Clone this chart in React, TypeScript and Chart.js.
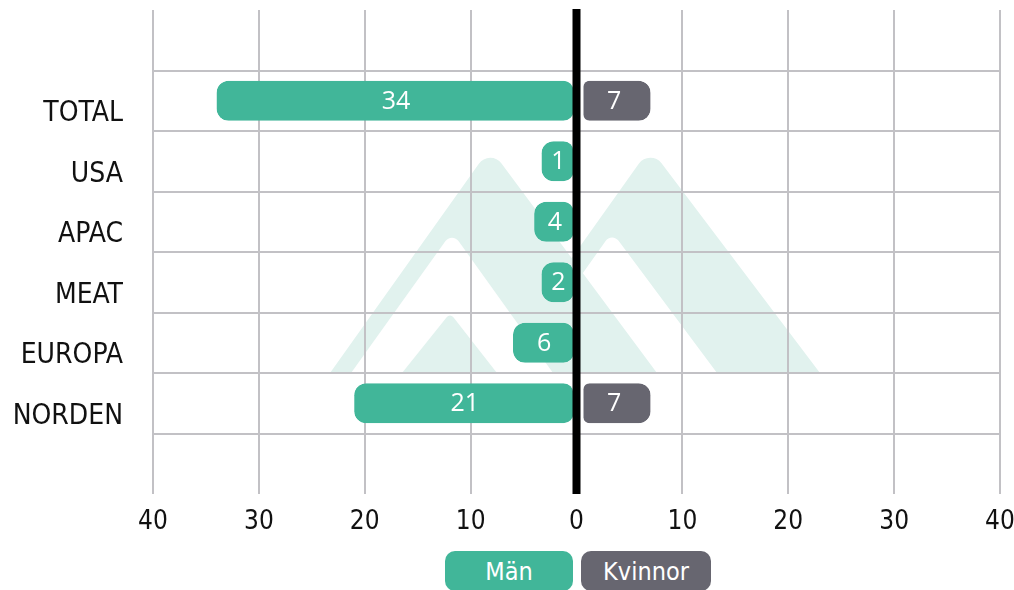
import { useEffect, useRef } from "react";
import { Chart, registerables } from "chart.js";

Chart.register(...registerables);

const categories = ["TOTAL", "USA", "APAC", "MEAT", "EUROPA", "NORDEN"];
const menValues = [34, 1, 4, 2, 6, 21];
const womenValues: (number | null)[] = [7, null, null, null, null, 7];
const seriesNames = ["Män", "Kvinnor"];
const xMin = -40;
const xMax = 40;
const xStep = 10;

const GREEN = "#41b699";
const GRAY = "#676670";
const GRID = "#c2c1c5";
const MINT = "#e1f2ee";
const FONT = '"DejaVu Sans Condensed", "Liberation Sans Narrow", sans-serif';

const watermark = {
  id: "watermark",
  beforeDraw(chart: any) {
    const { ctx, chartArea: a } = chart;
    const P = (fx: number, fy: number): [number, number] => [a.left + fx * a.width, a.top + fy * a.height];
    const tri = (pts: [number, number][], r: number) => {
      const [p0, p1, p2] = pts;
      ctx.moveTo((p0[0] + p2[0]) / 2, p0[1]);
      ctx.lineTo(p0[0], p0[1]);
      ctx.arcTo(p1[0], p1[1], p2[0], p2[1], r);
      ctx.lineTo(p2[0], p2[1]);
      ctx.closePath();
    };
    ctx.save();
    ctx.beginPath();
    tri([P(0.3979, 0.75), P(0.5868, 0.2851), P(0.7875, 0.75)], 14);
    tri([P(0.4238, 0.75), P(0.5419, 0.4587), P(0.6659, 0.75)], 8);
    ctx.fillStyle = MINT;
    ctx.fill("evenodd");
    ctx.beginPath();
    tri([P(0.209, 0.75), P(0.3979, 0.2851), P(0.595, 0.75)], 14);
    ctx.fillStyle = MINT;
    ctx.fill();
    ctx.beginPath();
    tri([P(0.2338, 0.75), P(0.353, 0.4587), P(0.4723, 0.75)], 8);
    ctx.fillStyle = "#ffffff";
    ctx.fill();
    ctx.beginPath();
    tri([P(0.294, 0.75), P(0.3507, 0.626), P(0.4061, 0.75)], 4);
    ctx.fillStyle = MINT;
    ctx.fill();
    ctx.restore();
  },
};

const overlay = {
  id: "overlay",
  afterDatasetsDraw(chart: any) {
    const { ctx, chartArea: a } = chart;
    const x0 = chart.scales.x.getPixelForValue(0);
    ctx.save();
    ctx.fillStyle = "#000";
    ctx.fillRect(x0 - 4, a.top - 1, 8, a.bottom - a.top + 1);
    ctx.font = '25px "Open Sans", sans-serif';
    ctx.fillStyle = "#ffffff";
    ctx.textAlign = "center";
    ctx.textBaseline = "middle";
    chart.data.datasets.forEach((ds: any, i: number) => {
      const meta = chart.getDatasetMeta(i);
      meta.data.forEach((el: any, j: number) => {
        const v = ds.data[j];
        if (v == null) return;
        const { x, base, y } = el.getProps(["x", "base", "y"], true);
        ctx.fillText(String(Math.abs(v)), (x + base) / 2, y + 1);
      });
    });
    ctx.restore();
  },
};

export default function App() {
  const ref = useRef<HTMLCanvasElement | null>(null);

  useEffect(() => {
    document.body.style.margin = "0";
    if (!ref.current) return;
    const labels = ["", ...categories, ""];
    const radius = { topLeft: 12, topRight: 12, bottomLeft: 12, bottomRight: 12 };
    const chart = new Chart(ref.current, {
      type: "bar",
      data: {
        labels,
        datasets: [
          {
            label: seriesNames[0],
            data: [null, ...menValues.map((v) => -v), null],
            backgroundColor: GREEN,
            borderColor: "#ffffff",
            borderWidth: { right: 2, left: 0, top: 0, bottom: 0 },
            borderSkipped: false,
            borderRadius: radius,
            minBarLength: 35,
            grouped: false,
            barPercentage: 0.66,
            categoryPercentage: 1,
          } as any,
          {
            label: seriesNames[1],
            data: [null, ...womenValues, null],
            backgroundColor: GRAY,
            borderColor: "#ffffff",
            borderWidth: { left: 6, right: 0, top: 0, bottom: 0 },
            borderSkipped: false,
            borderRadius: radius,
            minBarLength: 35,
            grouped: false,
            barPercentage: 0.66,
            categoryPercentage: 1,
          } as any,
        ],
      },
      options: {
        responsive: true,
        maintainAspectRatio: false,
        animation: false,
        indexAxis: "y",
        layout: { padding: { top: 10, right: 14, left: 0, bottom: 0 } },
        plugins: { legend: { display: false }, tooltip: { enabled: false } },
        scales: {
          x: {
            type: "linear",
            min: xMin,
            max: xMax,
            ticks: {
              stepSize: xStep,
              callback: (v: any) => String(Math.abs(Number(v))),
              color: "#111",
              font: { family: FONT, size: 26 },
              padding: 13,
              maxRotation: 0,
            },
            grid: { color: GRID, lineWidth: 2, drawTicks: false },
            border: { display: false },
            afterFit: (s: any) => {
              s.height = 54;
              s.paddingLeft = 0;
              s.paddingRight = 0;
            },
          },
          y: {
            type: "category",
            ticks: {
              color: "#111",
              font: { family: FONT, size: 28 },
              padding: 30,
              labelOffset: 13,
            },
            grid: {
              color: (c: any) => (typeof c.index === "number" && c.index >= 1 ? GRID : "rgba(0,0,0,0)"),
              lineWidth: 2,
              drawTicks: false,
              offset: true,
            },
            border: { display: false },
            afterFit: (s: any) => {
              s.width = 153;
              s.paddingTop = 0;
              s.paddingBottom = 0;
            },
          },
        },
      } as any,
      plugins: [watermark, overlay],
    });
    return () => chart.destroy();
  }, []);

  const box = (bg: string, left: number, width: number): React.CSSProperties => ({
    position: "absolute",
    top: 551,
    left,
    width,
    height: 40,
    background: bg,
    borderRadius: 10,
    color: "#fff",
    fontFamily: FONT,
    fontSize: 25,
    display: "flex",
    alignItems: "center",
    justifyContent: "center",
  });

  return (
    <div style={{ position: "relative", width: 1014, height: 590, overflow: "hidden", background: "#fff" }}>
      <div style={{ position: "absolute", left: 0, top: 0, width: 1014, height: 548 }}>
        <canvas ref={ref} />
      </div>
      <div style={box(GREEN, 445, 128)}>{seriesNames[0]}</div>
      <div style={box(GRAY, 581, 130)}>{seriesNames[1]}</div>
    </div>
  );
}
